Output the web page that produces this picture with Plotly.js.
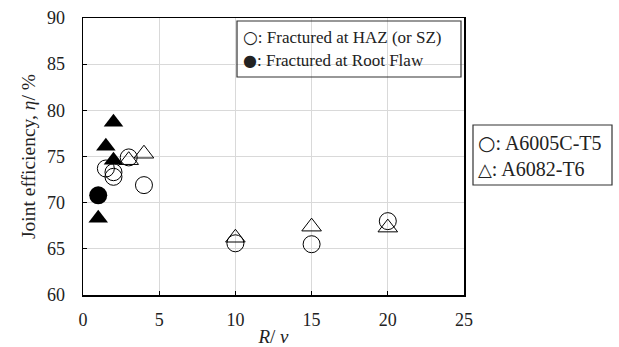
<!DOCTYPE html>
<html>
<head>
<meta charset="utf-8">
<script src="https://cdn.plot.ly/plotly-3.0.1.min.js"></script>
<style>html,body{margin:0;padding:0;background:#fff;}#chart{width:619px;height:347px;}</style>
</head>
<body>
<div id="chart"></div>
<script>
// A6005C-T5, fractured at HAZ (or SZ) — open circles
var hazCircleX = [1.5, 2, 2, 3, 4, 10, 15, 20];
var hazCircleY = [73.7, 73.3, 72.8, 74.9, 71.9, 65.6, 65.5, 68.0];
// A6005C-T5, fractured at root flaw — filled circles
var rootCircleX = [1];
var rootCircleY = [70.8];
// A6082-T6, fractured at HAZ (or SZ) — open triangles
var hazTriX = [3, 4, 10, 15, 20];
var hazTriY = [74.6, 75.3, 66.2, 67.4, 67.3];
// A6082-T6, fractured at root flaw — filled triangles
var rootTriX = [1, 1.5, 2, 2];
var rootTriY = [68.3, 76.1, 78.7, 74.6];

var xTicks = [0, 5, 10, 15, 20, 25];
var yTicks = [60, 65, 70, 75, 80, 85, 90];

var serif = "'Liberation Serif', 'Times New Roman', serif";
var sym = "font-family:'DejaVu Sans';";

var traces = [
  {x: hazCircleX, y: hazCircleY, mode: 'markers', type: 'scatter',
   marker: {symbol: 'circle-open', size: 17, color: '#000', line: {width: 1}}},
  {x: hazTriX, y: hazTriY, mode: 'markers', type: 'scatter',
   marker: {symbol: 'triangle-up-open', size: 17, color: '#000', line: {width: 1}}},
  {x: rootCircleX, y: rootCircleY, mode: 'markers', type: 'scatter',
   marker: {symbol: 'circle', size: 18, color: '#000', line: {width: 0}}},
  {x: rootTriX, y: rootTriY, mode: 'markers', type: 'scatter',
   marker: {symbol: 'triangle-up', size: 17, color: '#000', line: {width: 0}}}
];

var layout = {
  width: 619, height: 347,
  margin: {l: 83, r: 155, t: 18, b: 52},
  paper_bgcolor: '#fff', plot_bgcolor: '#fff',
  showlegend: false,
  font: {family: serif, size: 18, color: '#222'},
  xaxis: {
    range: [0, 25], tickvals: xTicks, ticktext: xTicks.map(String),
    ticks: 'inside', ticklen: 4, tickcolor: '#000', tickwidth: 1,
    showline: true, linecolor: '#000', linewidth: 1.5, mirror: true,
    showgrid: true, gridcolor: '#d9d9d9', gridwidth: 1, zeroline: false,
    ticklabelstandoff: 8,
    tickfont: {family: serif, size: 18, color: '#222'},
    title: {text: '<i>R</i>/ <i>v</i>', font: {family: serif, size: 19, color: '#222'}, standoff: 6}
  },
  yaxis: {
    range: [60, 90], tickvals: yTicks, ticktext: yTicks.map(String),
    ticks: 'inside', ticklen: 4, tickcolor: '#000', tickwidth: 1,
    showline: true, linecolor: '#000', linewidth: 1.5, mirror: true,
    showgrid: true, gridcolor: '#d9d9d9', gridwidth: 1, zeroline: false,
    ticklabelstandoff: 13,
    tickfont: {family: serif, size: 18, color: '#222'},
    title: {text: 'Joint efficiency, <i>η</i>/ %', font: {family: serif, size: 19.5, color: '#222'}, standoff: 6}
  },
  shapes: [
    {type: 'rect', xref: 'paper', yref: 'paper',
     x0: (237 - 83) / 381, x1: (461 - 83) / 381, y0: (295 - 77) / 277, y1: (295 - 21) / 277,
     line: {color: '#333', width: 1.2}, fillcolor: 'rgba(0,0,0,0)'},
    {type: 'rect', xref: 'paper', yref: 'paper',
     x0: (473 - 83) / 381, x1: (612 - 83) / 381, y0: (295 - 185) / 277, y1: (295 - 125) / 277,
     line: {color: '#333', width: 1.2}, fillcolor: 'rgba(0,0,0,0)'}
  ],
  annotations: [
    {xref: 'paper', yref: 'paper', x: (241 - 83) / 381, y: (295 - 37) / 277, xanchor: 'left', yanchor: 'middle',
     text: '<span style="' + sym + 'font-size:17px">○</span>: Fractured at HAZ (or SZ)', showarrow: false, font: {family: serif, size: 17, color: '#222'}},
    {xref: 'paper', yref: 'paper', x: (241 - 83) / 381, y: (295 - 60) / 277, xanchor: 'left', yanchor: 'middle',
     text: '<span style="' + sym + 'font-size:16px">●</span>: Fractured at Root Flaw', showarrow: false, font: {family: serif, size: 17, color: '#222'}},
    {xref: 'paper', yref: 'paper', x: (476 - 83) / 381, y: (295 - 143) / 277, xanchor: 'left', yanchor: 'middle',
     text: '<span style="' + sym + 'font-size:20px">○</span>: A6005C-T5', showarrow: false, font: {family: serif, size: 20, color: '#222'}},
    {xref: 'paper', yref: 'paper', x: (476 - 83) / 381, y: (295 - 169) / 277, xanchor: 'left', yanchor: 'middle',
     text: '<span style="' + sym + 'font-size:18px">△</span>: A6082-T6', showarrow: false, font: {family: serif, size: 20, color: '#222'}}
  ]
};

Plotly.newPlot('chart', traces, layout, {displayModeBar: false, staticPlot: true});
</script>
</body>
</html>
